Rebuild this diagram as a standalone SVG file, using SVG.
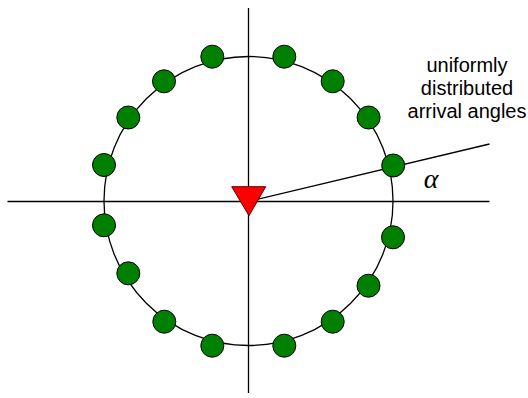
<svg xmlns="http://www.w3.org/2000/svg" width="528" height="398" viewBox="0 0 528 398">
<style>
.ln{stroke:#000;stroke-width:1.3;fill:none}
.dot{fill:#008000;stroke:#000;stroke-width:1}
.lbl{font-family:"Liberation Sans",Arial,sans-serif;font-size:20px;fill:#000;text-anchor:middle}
.greek{font-family:"Liberation Serif","Times New Roman",serif;font-style:italic;font-size:28px;fill:#000;text-anchor:middle}
</style>
<rect width="528" height="398" fill="#fff"/>
<g id="connectors">
<line class="ln" x1="7.5" y1="201.5" x2="489.5" y2="201.5"/>
<line class="ln" x1="248.5" y1="8" x2="248.5" y2="393"/>
<circle class="ln" cx="248.5" cy="201" r="144.5"/>
<line class="ln" x1="248.5" y1="201.5" x2="489.5" y2="144"/>
</g>
<g id="sensors">
<circle class="dot" cx="212.3" cy="56.7" r="11.5"/>
<circle class="dot" cx="284.3" cy="56.7" r="11.5"/>
<circle class="dot" cx="332.7" cy="81.3" r="11.5"/>
<circle class="dot" cx="368.6" cy="117.5" r="11.5"/>
<circle class="dot" cx="393.2" cy="165.5" r="11.5"/>
<circle class="dot" cx="393" cy="237.3" r="11.5"/>
<circle class="dot" cx="368.5" cy="285.7" r="11.5"/>
<circle class="dot" cx="332.7" cy="321.7" r="11.5"/>
<circle class="dot" cx="284.3" cy="345.7" r="11.5"/>
<circle class="dot" cx="212.3" cy="345.7" r="11.5"/>
<circle class="dot" cx="164.3" cy="321.7" r="11.5"/>
<circle class="dot" cx="128.3" cy="273.3" r="11.5"/>
<circle class="dot" cx="104" cy="225.3" r="11.5"/>
<circle class="dot" cx="104" cy="165" r="11.5"/>
<circle class="dot" cx="128.3" cy="117.5" r="11.5"/>
<circle class="dot" cx="164" cy="81.3" r="11.5"/>
</g>
<g id="source">
<polygon points="231.7,186.7 265.7,186.7 249,215.7" fill="#ff0000" stroke="#600000" stroke-width="1"/>
</g>
<g id="label">
<text class="lbl" x="467" y="71.5">uniformly</text>
<text class="lbl" x="467" y="94.5">distributed</text>
<text class="lbl" x="467" y="118">arrival angles</text>
</g>
<g id="angle">
<text class="greek" x="431" y="188">α</text>
</g>
</svg>
